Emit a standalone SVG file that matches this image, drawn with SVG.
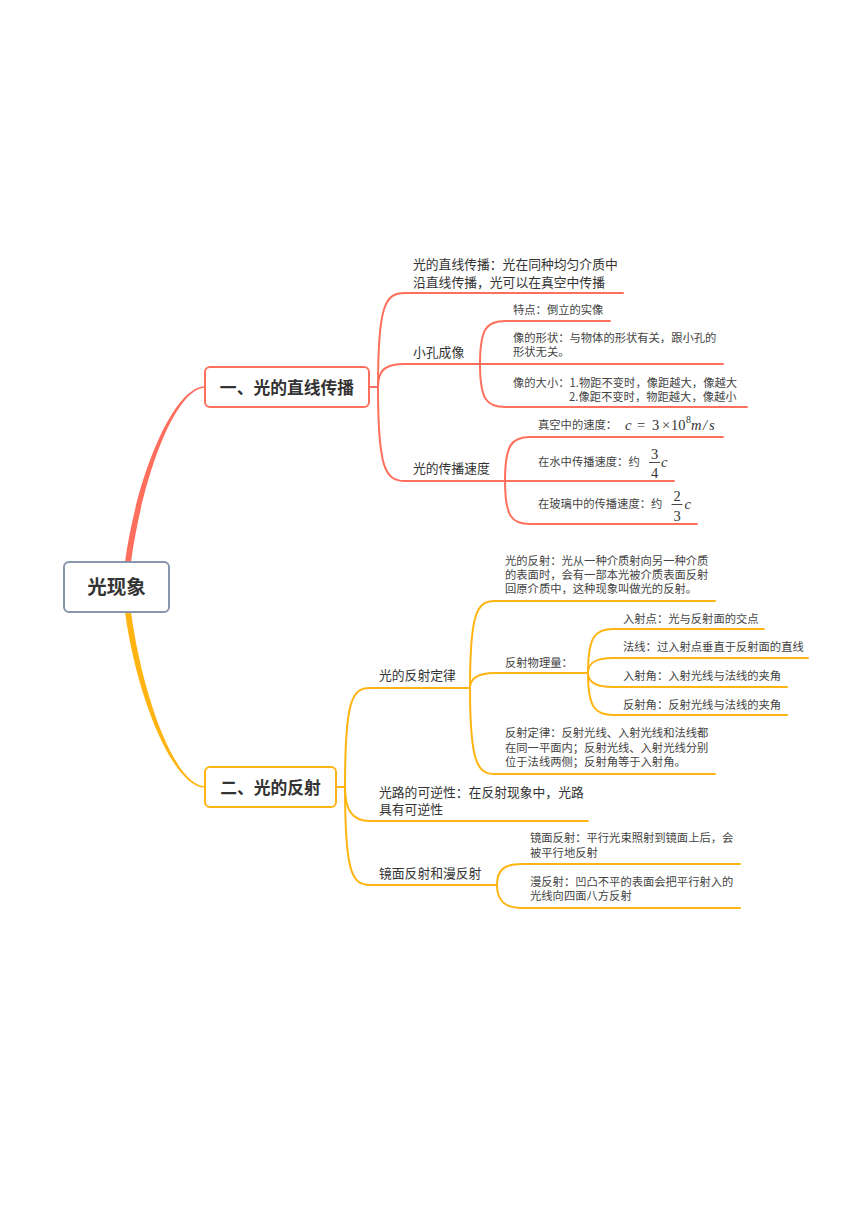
<svg xmlns="http://www.w3.org/2000/svg" width="860" height="1216" viewBox="0 0 860 1216">
<style>
.bg{fill:#ffffff}
.c1{fill:none;stroke:#FF6F5E;stroke-width:2;stroke-linecap:round}
.c2{fill:none;stroke:#FFB412;stroke-width:2;stroke-linecap:round}
.fr{fill:none;stroke:#333;stroke-width:0.9}
.t1{fill:#FF6F5E}
.t2{fill:#FFB412}
.root{fill:#ffffff;stroke:#8796AC;stroke-width:2}
.b1{fill:#ffffff;stroke:#FF6F5E;stroke-width:2}
.b2{fill:#ffffff;stroke:#FFB412;stroke-width:2}
.h0{font-family:"Noto Sans CJK SC","Noto Sans",sans-serif;font-size:19.5px;font-weight:bold;fill:#333;text-anchor:middle}
.h1{font-family:"Noto Sans CJK SC","Noto Sans",sans-serif;font-size:16.8px;font-weight:bold;fill:#333;text-anchor:middle}
.l2{font-family:"Noto Sans CJK SC","Noto Sans",sans-serif;font-size:12.8px;fill:#333}
.l3{font-family:"Noto Sans CJK SC","Noto Sans",sans-serif;font-size:11.3px;fill:#444}
.m{font-family:"Liberation Serif","DejaVu Serif",serif;font-size:14.5px;fill:#333}
.mi{font-family:"Liberation Serif","DejaVu Serif",serif;font-size:14.5px;font-style:italic;fill:#333}
.mc{font-family:"Liberation Serif","DejaVu Serif",serif;font-size:14.5px;fill:#333;text-anchor:middle}
</style>
<rect class="bg" x="0" y="0" width="860" height="1216"/>
<g id="connectors">
  <path class="t1" d="M125,562 C137,474 174,386.3 205,386.3 L205,387.7 C176,388 143,474 131,562 Z"/>
  <path class="t2" d="M125,612 C137,700 174,787.7 205,787.7 L205,786.3 C176,786 143,700 131,612 Z"/>
  <path class="c1" d="M369,387 H378"/>
  <path class="c1" d="M378,387 C378,305 385,293 405,293 H623"/>
  <path class="c1" d="M378,387 C378,370 385,364 405,364 H723"/>
  <path class="c1" d="M378,387 C378,468 385,481 405,481 H674"/>
  <path class="c1" d="M480,364 C480,328 487,321 505,321 H610"/>
  <path class="c1" d="M480,364 C480,400 487,407 505,407 H747"/>
  <path class="c1" d="M505,481 C505,444 512,437 530,437 H723"/>
  <path class="c1" d="M505,481 C505,517 512,524 530,524 H697"/>
  <path class="c2" d="M336,787 H345"/>
  <path class="c2" d="M345,787 C345,700 352,688 370,688 H470"/>
  <path class="c2" d="M345,787 C345,810 352,821 370,821 H588"/>
  <path class="c2" d="M345,787 C345,873 352,885 370,885 H497"/>
  <path class="c2" d="M470,688 C470,612 477,601 495,601 H715"/>
  <path class="c2" d="M470,688 C470,679 477,673 495,673 H588"/>
  <path class="c2" d="M470,688 C470,762 477,774 495,774 H715"/>
  <path class="c2" d="M588,673 C588,637 595,629 613,629 H764"/>
  <path class="c2" d="M588,673 C588,663 595,658 613,658 H808"/>
  <path class="c2" d="M588,673 C588,682 595,687 613,687 H787"/>
  <path class="c2" d="M588,673 C588,707 595,715 613,715 H787"/>
  <path class="c2" d="M497,885 C497,870 504,864 522,864 H740"/>
  <path class="c2" d="M497,885 C497,900 504,908 522,908 H740"/>
</g>
<g id="root">
  <rect class="root" x="64" y="562" width="105" height="50" rx="5"/>
  <text class="h0" x="116.5" y="594">光现象</text>
</g>
<g id="branch1">
  <rect class="b1" x="205" y="367" width="164" height="40" rx="5"/>
  <text class="h1" x="287" y="393.5">一、光的直线传播</text>
</g>
<g id="branch2">
  <rect class="b2" x="205" y="767" width="131" height="40" rx="5"/>
  <text class="h1" x="270.5" y="794">二、光的反射</text>
</g>
<g id="n-straight">
  <text class="l2" x="413" y="269">光的直线传播：光在同种均匀介质中</text>
  <text class="l2" x="413" y="287">沿直线传播，光可以在真空中传播</text>
</g>
<g id="n-pinhole">
  <text class="l2" x="413" y="357">小孔成像</text>
</g>
<g id="n-feature">
  <text class="l3" x="513" y="314">特点：倒立的实像</text>
</g>
<g id="n-shape">
  <text class="l3" x="513" y="342">像的形状：与物体的形状有关，跟小孔的</text>
  <text class="l3" x="513" y="356">形状无关。</text>
</g>
<g id="n-size">
  <text class="l3" x="513" y="387">像的大小：1.物距不变时，像距越大，像越大</text>
  <text class="l3" x="569" y="401">2.像距不变时，物距越大，像越小</text>
</g>
<g id="n-speed">
  <text class="l2" x="413" y="473">光的传播速度</text>
</g>
<g id="n-vacuum">
  <text class="l3" x="538" y="429">真空中的速度：</text>
  <text x="625" y="430"><tspan class="mi">c</tspan><tspan class="m" x="637">=</tspan><tspan class="m" x="652">3</tspan><tspan class="m" x="662">×</tspan><tspan class="m" x="671">10</tspan><tspan class="m" x="686" y="423" style="font-size:10px">8</tspan><tspan class="mi" x="691" y="430">m</tspan><tspan class="mi" x="703">/</tspan><tspan class="mi" x="709">s</tspan></text>
</g>
<g id="n-water">
  <text class="l3" x="538" y="466">在水中传播速度：约</text>
  <text class="mc" x="654.5" y="458.5">3</text>
  <path class="fr" d="M649,462.5 H660"/>
  <text class="mc" x="654.5" y="477.5">4</text>
  <text class="mi" x="661" y="467">c</text>
</g>
<g id="n-glass">
  <text class="l3" x="538" y="508">在玻璃中的传播速度：约</text>
  <text class="mc" x="677" y="500.5">2</text>
  <path class="fr" d="M671.5,504.5 H682.5"/>
  <text class="mc" x="677" y="520.5">3</text>
  <text class="mi" x="684.5" y="509">c</text>
</g>
<g id="n-law">
  <text class="l2" x="379" y="680">光的反射定律</text>
</g>
<g id="n-reflection">
  <text class="l3" x="505" y="565">光的反射：光从一种介质射向另一种介质</text>
  <text class="l3" x="505" y="579">的表面时，会有一部本光被介质表面反射</text>
  <text class="l3" x="505" y="593">回原介质中，这种现象叫做光的反射。</text>
</g>
<g id="n-quantities">
  <text class="l3" x="505" y="667">反射物理量：</text>
</g>
<g id="n-point">
  <text class="l3" x="623" y="623">入射点：光与反射面的交点</text>
</g>
<g id="n-normal">
  <text class="l3" x="623" y="651">法线：过入射点垂直于反射面的直线</text>
</g>
<g id="n-incidence">
  <text class="l3" x="623" y="680">入射角：入射光线与法线的夹角</text>
</g>
<g id="n-reflect-angle">
  <text class="l3" x="623" y="709">反射角：反射光线与法线的夹角</text>
</g>
<g id="n-rule">
  <text class="l3" x="505" y="737">反射定律：反射光线、入射光线和法线都</text>
  <text class="l3" x="505" y="752">在同一平面内；反射光线、入射光线分别</text>
  <text class="l3" x="505" y="766">位于法线两侧；反射角等于入射角。</text>
</g>
<g id="n-reversible">
  <text class="l2" x="379" y="797">光路的可逆性：在反射现象中，光路</text>
  <text class="l2" x="379" y="814">具有可逆性</text>
</g>
<g id="n-mirror-diffuse">
  <text class="l2" x="379" y="878">镜面反射和漫反射</text>
</g>
<g id="n-mirror">
  <text class="l3" x="530" y="842">镜面反射：平行光束照射到镜面上后，会</text>
  <text class="l3" x="530" y="857">被平行地反射</text>
</g>
<g id="n-diffuse">
  <text class="l3" x="530" y="886">漫反射：凹凸不平的表面会把平行射入的</text>
  <text class="l3" x="530" y="900">光线向四面八方反射</text>
</g>
</svg>
